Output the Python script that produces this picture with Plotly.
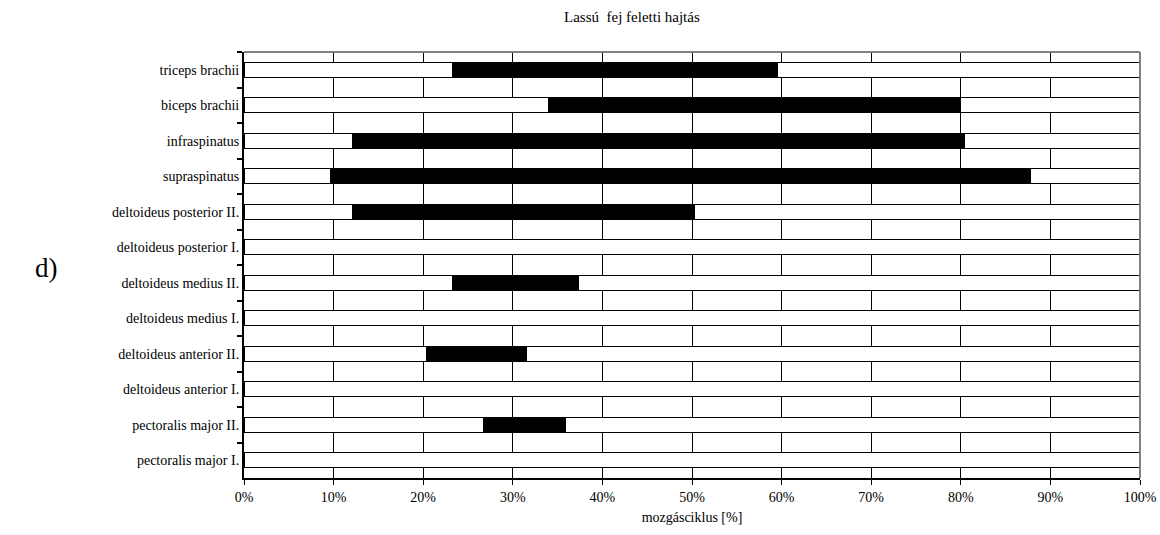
import plotly.graph_objects as go

muscles = [
    "triceps brachii",
    "biceps brachii",
    "infraspinatus",
    "supraspinatus",
    "deltoideus posterior II.",
    "deltoideus posterior I.",
    "deltoideus medius II.",
    "deltoideus medius I.",
    "deltoideus anterior II.",
    "deltoideus anterior I.",
    "pectoralis major II.",
    "pectoralis major I.",
]
onset = [23.3, 34.0, 12.1, 9.6, 12.1, None, 23.3, None, 20.4, None, 26.7, None]
offset = [59.5, 80.0, 80.4, 87.8, 50.3, None, 37.3, None, 31.5, None, 35.9, None]
x_ticks = [0, 10, 20, 30, 40, 50, 60, 70, 80, 90, 100]

seg_before = [a if a is not None else 100 for a in onset]
seg_active = [(b - a) if a is not None else None for a, b in zip(onset, offset)]
seg_after = [(100 - b) if b is not None else None for b in offset]

FONT = "Liberation Serif"
line = dict(color="black", width=1)

W, H = 1160, 535
l, r, t, b = 244, 20, 52, 57

fig = go.Figure()
fig.add_trace(go.Bar(y=muscles, x=seg_before, orientation="h",
                     marker=dict(color="white", line=line), showlegend=False))
fig.add_trace(go.Bar(y=muscles, x=seg_active, orientation="h",
                     marker=dict(color="black", line=line), showlegend=False))
fig.add_trace(go.Bar(y=muscles, x=seg_after, orientation="h",
                     marker=dict(color="white", line=line), showlegend=False))

fig.update_layout(
    width=W, height=H,
    margin=dict(l=l, r=r, t=t, b=b, autoexpand=False),
    barmode="stack", bargap=0.575,
    plot_bgcolor="white", paper_bgcolor="white",
    font=dict(family=FONT, size=14, color="black"),
    xaxis=dict(range=[0, 100], tickvals=x_ticks,
               ticktext=[f"{v}%" for v in x_ticks],
               showgrid=True, gridcolor="black", gridwidth=1,
               showline=True, linecolor="black", linewidth=2,
               ticks="outside", ticklen=5, tickcolor="black", tickwidth=1,
               zeroline=False,
               title=dict(text="mozgásciklus [%]", font=dict(size=14), standoff=8),
               tickfont=dict(size=14)),
    yaxis=dict(autorange="reversed", showline=True, linecolor="black", linewidth=2,
               ticks="outside", ticklen=5, tickcolor="black", tickwidth=2,
               tickson="boundaries", showgrid=False,
               tickfont=dict(size=14)),
    annotations=[
        dict(text="Lassú  fej feletti hajtás", x=632, y=17, xref="paper", yref="paper",
             showarrow=False, font=dict(size=15)),
        dict(text="d)", x=46, y=268, xref="paper", yref="paper",
             showarrow=False, font=dict(size=27)),
    ],
    shapes=[
        dict(type="line", xref="x domain", yref="y domain", x0=0, x1=1, y0=1, y1=1,
             line=dict(color="#808080", width=2), layer="above"),
        dict(type="line", xref="x domain", yref="y domain", x0=1, x1=1, y0=0, y1=1,
             line=dict(color="#808080", width=2), layer="above"),
    ],
)

# place the free annotations by page pixel position
pw, ph = W - l - r, H - t - b
for ann in fig.layout.annotations:
    px, py = ann.x, ann.y
    ann.x = (px - l) / pw
    ann.y = 1 - (py - t) / ph
    ann.xanchor = "center"
    ann.yanchor = "middle"

fig.write_html(
    "out.html",
    config={"displayModeBar": False},
    post_script="document.body.style.margin='0';document.body.style.overflow='hidden';",
)
